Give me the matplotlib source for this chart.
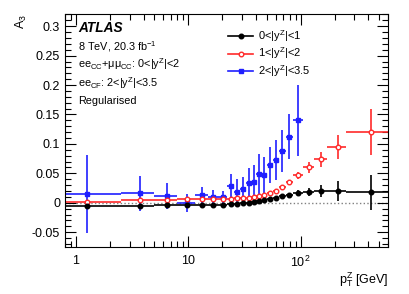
import numpy as np
import matplotlib
matplotlib.use("Agg")
import matplotlib.pyplot as plt
from matplotlib.ticker import MultipleLocator, LogLocator, FixedLocator, FixedFormatter
from matplotlib.lines import Line2D

plt.rcParams['font.family'] = ['Liberation Sans', 'DejaVu Sans']
plt.rcParams['mathtext.fontset'] = 'custom'
plt.rcParams['mathtext.rm'] = 'Liberation Sans'
plt.rcParams['mathtext.it'] = 'Liberation Sans'   # ROOT style: upright symbols
plt.rcParams['mathtext.bf'] = 'Liberation Sans:bold'

# pT bin edges (GeV)
edges = np.array([0, 2.5, 5.0, 8.0, 11.4, 14.9, 18.5, 22.0, 25.5, 29.0, 32.6, 36.4, 40.4,
                  44.9, 50.2, 56.4, 63.9, 73.4, 85.4, 105.0, 132.0, 173.0, 253.0, 600.0])

# 0<|y|<1
a3_y1 = np.array([-0.006, -0.005, -0.0045, -0.004, -0.004, -0.0035, -0.003, -0.0025, -0.002,
                  -0.001, 0.0, 0.0015, 0.003, 0.005, 0.007, 0.009, 0.011, 0.014, 0.017,
                  0.018, 0.020, 0.020, 0.018])
err_y1 = np.array([0.002, 0.0015, 0.0015, 0.0015, 0.0015, 0.0015, 0.0015, 0.0015, 0.0015,
                   0.0015, 0.0015, 0.0015, 0.0015, 0.0015, 0.002, 0.002, 0.002, 0.003, 0.004,
                   0.007, 0.010, 0.017, 0.030])

# 1<|y|<2
a3_y2 = np.array([0.002, 0.005, 0.0055, 0.0065, 0.007, 0.0065, 0.0065, 0.007, 0.0075, 0.008,
                  0.0085, 0.0095, 0.011, 0.013, 0.016, 0.020, 0.026, 0.035, 0.047, 0.060,
                  0.074, 0.095, 0.121])
err_y2 = np.array([0.002, 0.002, 0.002, 0.002, 0.002, 0.002, 0.002, 0.002, 0.002, 0.002,
                   0.002, 0.002, 0.002, 0.002, 0.0025, 0.003, 0.003, 0.004, 0.006, 0.010,
                   0.013, 0.021, 0.039])

# 2<|y|<3.5 (up to 105 GeV)
a3_y3 = np.array([0.015, 0.016, 0.012, 0.0, 0.0135, 0.010, 0.0095, 0.029, 0.019, 0.0235,
                  0.034, 0.035, 0.049, 0.047, 0.064, 0.0725, 0.088, 0.112, 0.140])
err_y3 = np.array([0.066, 0.030, 0.022, 0.015, 0.014, 0.011, 0.011, 0.020, 0.022, 0.020,
                   0.025, 0.030, 0.034, 0.030, 0.031, 0.034, 0.035, 0.038, 0.060])

fig = plt.figure(figsize=(4.09, 2.94), dpi=100)
ax = fig.add_axes([0.159, 0.160, 0.790, 0.791])

lo = edges[:-1]
hi = edges[1:]
cen = 0.5 * (lo + hi)

def draw(vals, errs, color, marker, mfc, ms):
    n = len(vals)
    c = cen[:n]
    xe = [c - lo[:n], hi[:n] - c]
    ax.errorbar(c, vals, xerr=xe, yerr=errs, fmt=marker, color=color, mfc=mfc, mec=color,
                ms=ms, mew=1.0, elinewidth=1.2, capsize=0)

ax.axhline(0, color='#808080', ls=':', lw=1.0, zorder=0)
draw(a3_y3, err_y3, '#1f1fff', 's', '#1f1fff', 3.5)
draw(a3_y2, err_y2, '#ff2a2a', 'o', 'white', 3.3)
draw(a3_y1, err_y1, 'black', 'o', 'black', 3.3)

ax.set_xscale('log', nonpositive='clip')
ax.set_xlim(0.8, 600)
ax.set_ylim(-0.075, 0.32)

ax.xaxis.set_major_locator(FixedLocator([1, 10, 100]))
ax.xaxis.set_major_formatter(FixedFormatter(['1', '10', r'$10^{2}$']))
ax.xaxis.set_minor_locator(LogLocator(base=10, subs=np.arange(2, 10)))
ax.xaxis.set_minor_formatter(FixedFormatter([]))
ax.yaxis.set_major_locator(FixedLocator([-0.05, 0, 0.05, 0.1, 0.15, 0.2, 0.25, 0.3]))
ax.yaxis.set_major_formatter(FixedFormatter(['-0.05', '0', '0.05', '0.1', '0.15', '0.2', '0.25', '0.3']))
ax.yaxis.set_minor_locator(MultipleLocator(0.01))
ax.tick_params(which='both', direction='in', top=True, right=True, labelsize=9, width=0.8)
ax.tick_params(which='major', length=8)
ax.tick_params(which='minor', length=4)
ax.tick_params(axis='x', which='major', pad=6)
for s in ax.spines.values():
    s.set_linewidth(0.8)

ax.set_ylabel(r'$\mathrm{A}_{3}$', loc='top', fontsize=9, labelpad=2)
ax.set_xlabel(r'$\mathrm{p}_{\mathrm{T}}^{\mathrm{Z}}$ [GeV]', loc='right', fontsize=9, labelpad=0)

tf = ax.transAxes
ax.text(0.04, 0.94, 'ATLAS', transform=tf, fontsize=9.8, fontweight='bold', style='italic', va='center')
ax.text(0.04, 0.863, r'8 TeV, 20.3 fb$^{-1}$', transform=tf, fontsize=7.8, va='center')
ax.text(0.04, 0.785, r'ee$_{\rm CC}$+$\mu\mu_{\rm CC}$: 0<|y$^{\rm Z}$|<2', transform=tf, fontsize=7.8, va='center')
ax.text(0.04, 0.705, r'ee$_{\rm CF}$: 2<|y$^{\rm Z}$|<3.5', transform=tf, fontsize=7.8, va='center')
ax.text(0.04, 0.628, 'Regularised', transform=tf, fontsize=7.8, va='center')

handles = [
    Line2D([], [], color='black', marker='o', ms=3.3, mfc='black', lw=1.2),
    Line2D([], [], color='#ff2a2a', marker='o', ms=3.3, mfc='white', lw=1.2),
    Line2D([], [], color='#1f1fff', marker='s', ms=3.5, mfc='#1f1fff', lw=1.2),
]
labels = [r'0<|y$^{\rm Z}$|<1', r'1<|y$^{\rm Z}$|<2', r'2<|y$^{\rm Z}$|<3.5']
ax.legend(handles, labels, loc='upper left', bbox_to_anchor=(0.49, 0.96), frameon=False,
          fontsize=8, handlelength=2.3, handletextpad=0.4, labelspacing=0.15, borderaxespad=0)

fig.savefig('out.png', dpi=100)
